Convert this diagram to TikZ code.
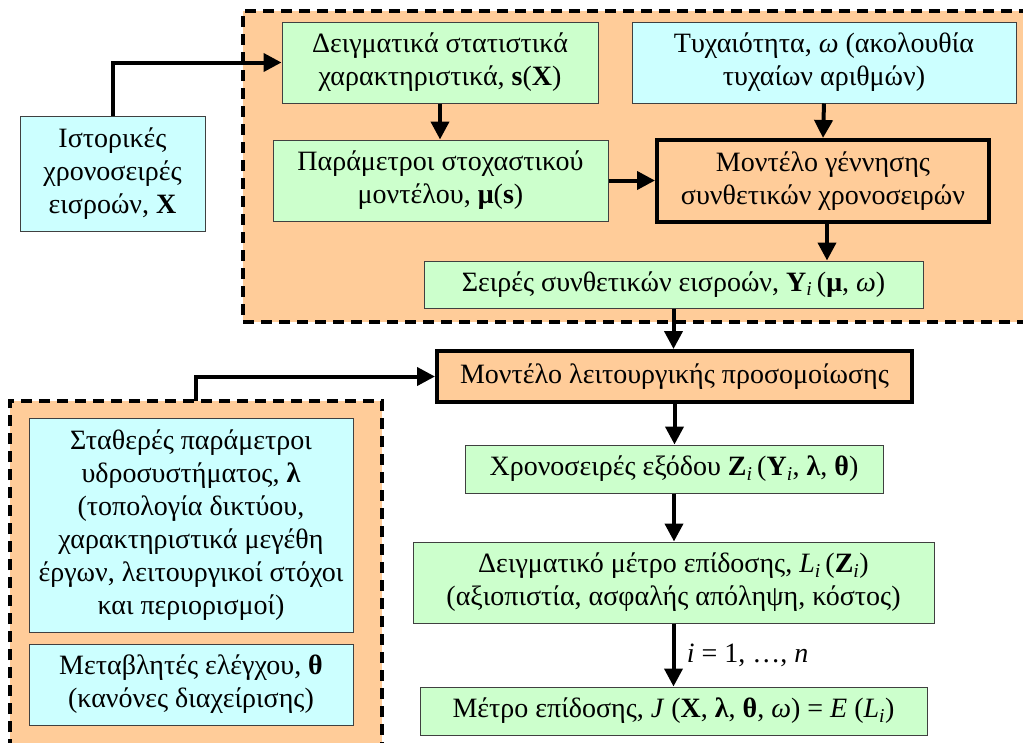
\documentclass[tikz,border=0pt]{standalone}
\usepackage{fontspec}
\setmainfont{Liberation Serif}
\usetikzlibrary{arrows.meta}

\definecolor{boxgreen}{HTML}{CCFFCC}
\definecolor{boxcyan}{HTML}{CCFFFF}
\definecolor{boxorange}{HTML}{FFCC99}

\tikzset{
  box/.style={draw=black!75, line width=1pt, align=center, inner sep=0pt,
    font=\fontsize{28}{33}\selectfont},
  greenbox/.style={box, fill=boxgreen},
  cyanbox/.style={box, fill=boxcyan},
  modelbox/.style={box, draw=black, line width=4pt, fill=boxorange},
  arr/.style={line width=4pt, -{Triangle[length=18pt,width=18pt]}},
  region/.style={black, line width=4pt, dash pattern=on 11pt off 7pt}
}

\begin{document}
\begin{tikzpicture}[x=1pt, y=-1pt]
        \useasboundingbox (0,0) rectangle (1023,742);

        % Synthetic series generation
        \fill[boxorange] (243,11) rectangle (1030,322);
        \draw[region] (1030,11) -- (243,11) -- (243,322) -- (1030,322);

        % System data
        \fill[boxorange] (10,401) rectangle (382,750);
        \draw[region] (10,750) -- (10,401) -- (382,401) -- (382,750);
        \coordinate (systop) at (196,401);

        \node[cyanbox, minimum width=185, minimum height=115] (hist) at (112.5,173.5)
          {Ιστορικές\\χρονοσειρές\\εισροών, \textbf{X}};
        \node[greenbox, minimum width=316, minimum height=81] (stats) at (440,62.5)
          {Δειγματικά στατιστικά\\χαρακτηριστικά, \textbf{s}(\textbf{X})};
        \node[cyanbox, minimum width=384, minimum height=81] (rand) at (824,62.5)
          {Τυχαιότητα, \textit{ω} (ακολουθία\\τυχαίων αριθμών)};
        \node[greenbox, minimum width=335, minimum height=81] (params) at (440.5,180.5)
          {Παράμετροι στοχαστικού\\μοντέλου, \textbf{μ}(\textbf{s})};
        \node[modelbox, minimum width=332, minimum height=82] (genmodel) at (823,181)
          {Μοντέλο γέννησης\\συνθετικών χρονοσειρών};
        \node[greenbox, minimum width=499, minimum height=47] (synth) at (673.5,284.5)
          {Σειρές συνθετικών εισροών, \textbf{Y}\textsubscript{\textit{i}}\,(\textbf{μ}, \textit{ω})};

        \node[modelbox, minimum width=475, minimum height=51] (simmodel) at (674.5,376.5)
          {Μοντέλο λειτουργικής προσομοίωσης};
        \node[greenbox, minimum width=418, minimum height=48] (output) at (674,469)
          {Χρονοσειρές εξόδου \textbf{Z}\textsubscript{\textit{i}}\,(\textbf{Y}\textsubscript{\textit{i}}, \textbf{λ}, \textbf{θ})};
        \node[greenbox, minimum width=521, minimum height=81] (sample) at (673.5,582.5)
          {Δειγματικό μέτρο επίδοσης, \textit{L}\textsubscript{\textit{i}}\,(\textbf{Z}\textsubscript{\textit{i}})\\(αξιοπιστία, ασφαλής απόληψη, κόστος)};
        \node[greenbox, minimum width=507, minimum height=48] (perf) at (673.5,711)
          {Μέτρο επίδοσης, \textit{J} (\textbf{X}, \textbf{λ}, \textbf{θ}, \textit{ω}) = \textit{E} (\textit{L}\textsubscript{\textit{i}})};

        \node[cyanbox, minimum width=324, minimum height=214] (constpar) at (191,525)
          {Σταθερές παράμετροι\\υδροσυστήματος, \textbf{λ}\\(τοπολογία δικτύου,\\χαρακτηριστικά μεγέθη\\έργων, λειτουργικοί στόχοι\\και περιορισμοί)};
        \node[cyanbox, minimum width=324, minimum height=81] (ctrl) at (191,684.5)
          {Μεταβλητές ελέγχου, \textbf{θ}\\(κανόνες διαχείρισης)};

        % Flow
        \draw[arr] (hist.north) |- (stats.west);
        \draw[arr] (stats.south) -- (stats.south |- params.north);
        \draw[arr] (rand.south) -- (genmodel.north);
        \draw[arr] (params.east) -- (params.east -| genmodel.west);
        \draw[arr] ([xshift=4pt]genmodel.south) -- ([xshift=4pt]genmodel.south |- synth.north);
        \draw[arr] (synth.south) -- (synth.south |- simmodel.north);
        \draw[arr] (systop) |- (simmodel.west);
        \draw[arr] (simmodel.south) -- (simmodel.south |- output.north);
        \draw[arr] (output.south) -- (output.south |- sample.north);
        \draw[arr] (sample.south) -- (sample.south |- perf.north)
          node[midway, right=8pt, font=\fontsize{28}{33}\selectfont] (count) {\textit{i} = 1, …, \textit{n}};
      \end{tikzpicture}
\end{document}
